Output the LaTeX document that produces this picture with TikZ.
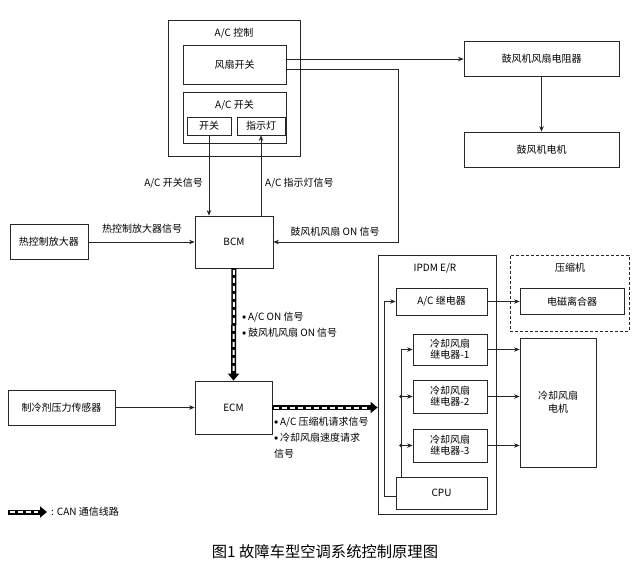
\documentclass[tikz,border=0pt]{standalone}
\usepackage{fontspec}
\setmainfont{Noto Sans CJK SC}
\usetikzlibrary{arrows.meta,calc}
\newcommand{\bul}{\raisebox{1.2pt}{\footnotesize$\bullet$}\,}
\begin{document}
\begin{tikzpicture}[x=1pt,y=-1pt,
  font=\fontsize{10}{13}\selectfont,
  box/.style={draw=black!85, line width=0.8pt, inner sep=0pt, align=center},
  arr/.style={draw=black!85, line width=0.7pt, -{Stealth[length=5.5pt,width=4.5pt]}},
  ln/.style={draw=black!85, line width=0.7pt},
  can/.style={line width=5pt, -{Triangle[length=7pt,width=11pt]},
    postaction={draw=white, line width=2pt, dash pattern=on 5pt off 3pt, shorten >=9pt, shorten <=1.5pt, -}},
  lbl/.style={inner sep=1pt}]
\useasboundingbox (0,0) rectangle (640,563);

% A/C control group
\node[box, minimum width=132pt, minimum height=136pt] (acctrl) at (234,88) {};
\node[lbl] (acctrlT) at (234,33) {A/C 控制};
\node[box, minimum width=103pt, minimum height=39pt] (fansw) at (234.5,64.5) {风扇开关};
\node[box, minimum width=103pt, minimum height=51pt] (acsw) at (234.5,117.5) {};
\node[lbl] (acswT) at (234.5,105) {A/C 开关};
\node[box, minimum width=44pt, minimum height=18pt] (sw) at (209,126) {开关};
\node[box, minimum width=48pt, minimum height=18pt] (ind) at (261,126) {指示灯};

% blower
\node[box, minimum width=155pt, minimum height=35pt] (res) at (541.5,58.5) {鼓风机风扇电阻器};
\node[box, minimum width=155pt, minimum height=35pt] (blow) at (541.5,149.5) {鼓风机电机};

% BCM / ECM
\node[box, minimum width=78pt, minimum height=52pt] (bcm) at (234,242) {BCM};
\node[box, minimum width=78pt, minimum height=35pt] (amp) at (49,242) {热控制放大器};
\node[box, minimum width=77pt, minimum height=53pt] (ecm) at (233.5,407.5) {ECM};
\node[box, minimum width=107pt, minimum height=35pt] (sens) at (61.5,407.5) {制冷剂压力传感器};

% IPDM
\node[box, minimum width=118pt, minimum height=259pt] (ipdm) at (437,384.5) {};
\node[lbl] (ipdmT) at (435,268) {IPDM E/R};
\node[box, minimum width=91pt, minimum height=27pt] (acrel) at (441.5,301.5) {A/C 继电器};
\node[box, minimum width=74pt, minimum height=31pt] (rel1) at (450,349.5) {冷却风扇\\[-2pt]继电器-1};
\node[box, minimum width=74pt, minimum height=33pt] (rel2) at (450,396.5) {冷却风扇\\[-2pt]继电器-2};
\node[box, minimum width=74pt, minimum height=33pt] (rel3) at (450,445.5) {冷却风扇\\[-2pt]继电器-3};
\node[box, minimum width=91pt, minimum height=32pt] (cpu) at (441.5,493) {CPU};

% compressor
\node[box, dashed, dash pattern=on 3pt off 2pt, minimum width=119pt, minimum height=76pt] (comp) at (569.5,293) {};
\node[lbl] (compT) at (570,268) {压缩机};
\node[box, minimum width=104pt, minimum height=26pt] (clutch) at (572,301.5) {电磁离合器};
\node[box, minimum width=76pt, minimum height=129pt] (fanm) at (558,402.5) {冷却风扇\\电机};

% connectors top
\draw[arr] (sw.south) -- (sw.south |- bcm.north);
\draw[arr] (ind.south |- bcm.north) -- (ind.south);
\draw[arr] ([yshift=5.5pt]fansw.east) -- ([yshift=5.5pt]fansw.east -| res.west);
\coordinate (fturn) at (398,242);
\draw[arr] ([yshift=-4.5pt]fansw.east) -| (fturn) -- (bcm.east);
\draw[arr] (res.south) -- (blow.north);
\draw[arr] (amp.east) -- (bcm.west);
\draw[arr] (sens.east) -- (ecm.west);

% CAN lines
\draw[can] (bcm.south) -- (ecm.north);
\draw[can] (ecm.east) -- (ecm.east -| ipdm.west);

% IPDM internal
\draw[arr] (acrel.east) -- (clutch.west);
\draw[arr] (rel1.east) -- (rel1.east -| fanm.west);
\draw[arr] (rel2.east) -- (rel2.east -| fanm.west);
\draw[arr] (rel3.east) -- (rel3.east -| fanm.west);
\coordinate (bus1) at (384,0);
\coordinate (bus2) at (401,0);
\draw[arr] ([yshift=-3pt]cpu.west) -| (bus1 |- acrel.west) -- (acrel.west);
\draw[arr] (bus2 |- cpu.north) -- (bus2 |- rel1.west) -- (rel1.west);
\draw[arr] (bus2 |- rel2.west) -- (rel2.west);
\draw[arr] (bus2 |- rel3.west) -- (rel3.west);
\fill[black!85] (bus2 |- rel2.west) circle (1.8pt) (bus2 |- rel3.west) circle (1.8pt);

% labels
\node[lbl, anchor=east] (l1) at (204,183) {A/C 开关信号};
\node[lbl, anchor=west] (l2) at (264,183) {A/C 指示灯信号};
\node[lbl] (l3) at (142,229) {热控制放大器信号};
\node[lbl] (l4) at (335,232) {鼓风机风扇 ON 信号};
\node[lbl, anchor=north west, align=left, font=\fontsize{10}{16}\selectfont] (l5) at (241,311) {\bul A/C ON 信号\\\bul 鼓风机风扇 ON 信号};
\node[lbl, anchor=north west, align=left, font=\fontsize{10}{16}\selectfont] (l6) at (273,416) {\bul A/C 压缩机请求信号\\\bul 冷却风扇速度请求\\信号};

% legend
\coordinate (lgA) at (8,512);
\coordinate (lgB) at (47,512);
\draw[can] (lgA) -- (lgB);
\node[lbl, anchor=west] (lgT) at (50,512) {: CAN 通信线路};

% caption
\node[lbl, font=\fontsize{15.3}{17}\selectfont] (cap) at (325,552) {图1 故障车型空调系统控制原理图};
\end{tikzpicture}
\end{document}
